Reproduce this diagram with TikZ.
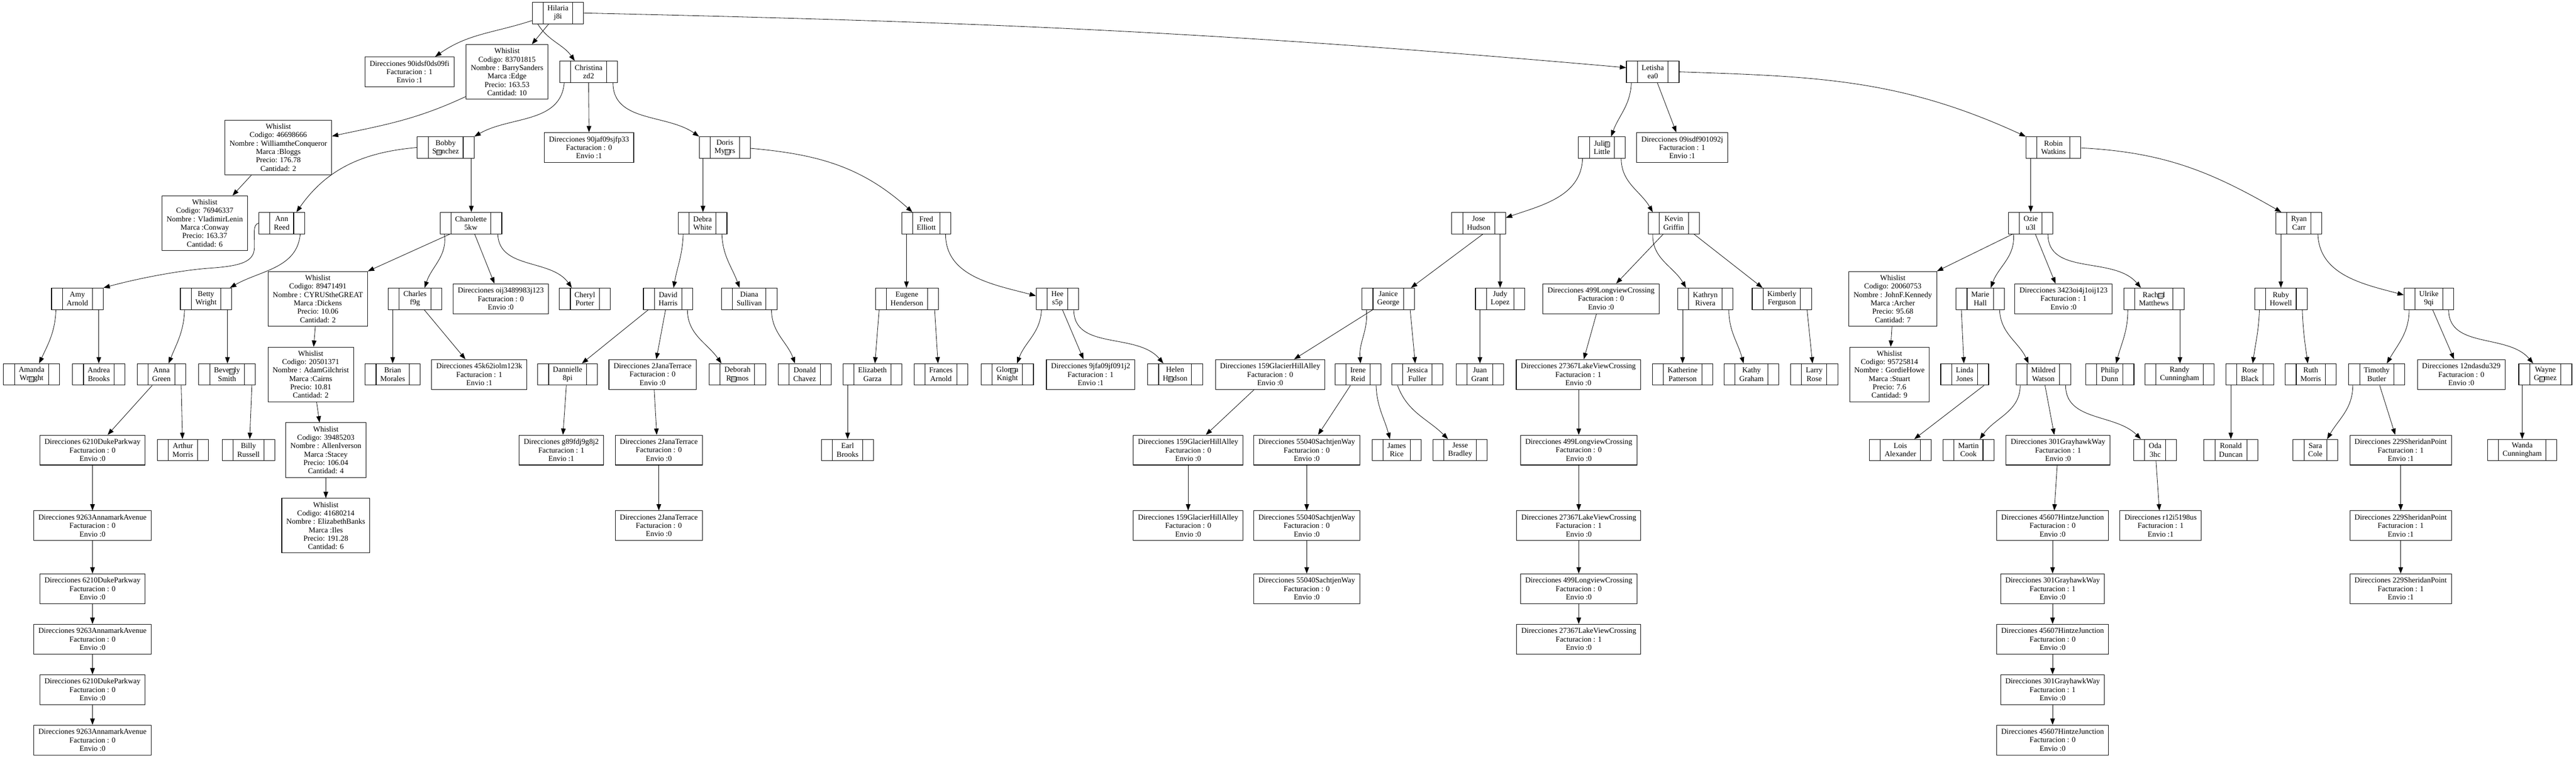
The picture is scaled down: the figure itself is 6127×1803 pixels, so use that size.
\documentclass[tikz,border=0pt]{standalone}
\usepackage{fontspec}
\setmainfont{Liberation Serif}
\usetikzlibrary{arrows.meta,calc}
\newcommand\rp{\raisebox{-0.8pt}{\setlength{\fboxsep}{0.35pt}\setlength{\fboxrule}{0.3pt}\fbox{\vbox{\offinterlineskip\fontsize{3.4pt}{3.4pt}\selectfont\hbox{FF}\vskip0.5pt\hbox{FD}}}}}
\tikzset{
 base/.style={draw, line width=0.65pt, align=center, font=\fontsize{9}{10}\selectfont, inner ysep=0pt},
 rec/.style={base, inner xsep=18pt, minimum height=25.5pt,
   path picture={\draw[line width=0.65pt] ([xshift=13pt]path picture bounding box.north west) -- ([xshift=13pt]path picture bounding box.south west);
                 \draw[line width=0.65pt] ([xshift=-13pt]path picture bounding box.north east) -- ([xshift=-13pt]path picture bounding box.south east);}},
 dr/.style={base, inner xsep=5.5pt, minimum height=35.5pt},
 wl/.style={base, inner xsep=5.5pt, minimum height=65pt},
 e/.style={-{Triangle[length=7.5pt,width=5.5pt]}, line width=0.5pt},
}
\begin{document}
\begin{tikzpicture}[x=0.5pt,y=0.5pt]
\useasboundingbox (0,0) rectangle (6127,-1803);
% rank 31
\node[rec] (hil) at (1327,-31) {Hilaria\\j8i};
% rank 171
\node[wl] (w1) at (1206,-171) {Whislist\\Codigo: 83701815\\Nombre : BarrySanders\\Marca :Edge\\Precio: 163.53\\Cantidad: 10};
\node[rec] (chr) at (1400,-171) {Christina\\zd2};
\node[dr] (d90i) at (974,-171) {Direcciones 90idsf0ds09fi\\Facturacion : 1\\Envio :1};
\node[rec] (lets) at (3931,-171) {Letisha\\ea0};
% rank 351
\node[wl] (w2) at (662,-351) {Whislist\\Codigo: 46698666\\Nombre : WilliamtheConqueror\\Marca :Bloggs\\Precio: 176.78\\Cantidad: 2};
\node[rec] (bob) at (1060,-351) {Bobby\\S\rp nchez};
\node[dr] (d90j) at (1401,-351) {Direcciones 90jaf09sjfp33\\Facturacion : 0\\Envio :1};
\node[rec] (dor) at (1724,-351) {Doris\\My\rp rs};
\node[rec] (jul) at (3810,-351) {Juli\rp\\Little};
\node[dr] (d09) at (4001,-351) {Direcciones 09isdf901092j\\Facturacion : 1\\Envio :1};
\node[rec] (rob) at (4884,-351) {Robin\\Watkins};
% rank 531
\node[wl] (w3) at (487,-531) {Whislist\\Codigo: 76946337\\Nombre : VladimirLenin\\Marca :Conway\\Precio: 163.37\\Cantidad: 6};
\node[rec] (ann) at (670,-531) {Ann\\Reed};
\node[rec] (cha) at (1120,-531) {Charolette\\5kw};
\node[rec] (deb) at (1671,-531) {Debra\\White};
\node[rec] (fre) at (2203,-531) {Fred\\Elliott};
\node[rec] (jos) at (3517,-531) {Jose\\Hudson};
\node[rec] (kev) at (3981,-531) {Kevin\\Griffin};
\node[rec] (ozi) at (4830,-531) {Ozie\\u3l};
\node[rec] (rya) at (5468,-531) {Ryan\\Carr};
% rank 711
\node[rec] (amy) at (184,-711) {Amy\\Arnold};
\node[rec] (bet) at (490,-711) {Betty\\Wright};
\node[wl] (w4) at (756,-711) {Whislist\\Codigo: 89471491\\Nombre : CYRUStheGREAT\\Marca :Dickens\\Precio: 10.06\\Cantidad: 2};
\node[rec] (chl) at (987,-711) {Charles\\f9g};
\node[dr] (doij) at (1191,-711) {Direcciones oij3489983j123\\Facturacion : 0\\Envio :0};
\node[rec] (che) at (1391,-711) {Cheryl\\Porter};
\node[rec] (dav) at (1589,-711) {David\\Harris};
\node[rec] (dia) at (1782,-711) {Diana\\Sullivan};
\node[rec] (eug) at (2157,-711) {Eugene\\Henderson};
\node[rec] (hee) at (2515,-711) {Hee\\s5p};
\node[rec] (jan) at (3302,-711) {Janice\\George};
\node[rec] (jud) at (3568,-711) {Judy\\Lopez};
\node[dr] (d499a) at (3808,-711) {Direcciones 499LongviewCrossing\\Facturacion : 0\\Envio :0};
\node[rec] (kat) at (4056,-711) {Kathryn\\Rivera};
\node[rec] (kim) at (4238,-711) {Kimberly\\Ferguson};
\node[wl] (w5) at (4502,-711) {Whislist\\Codigo: 20060753\\Nombre : JohnF.Kennedy\\Marca :Archer\\Precio: 95.68\\Cantidad: 7};
\node[rec] (mar) at (4710,-711) {Marie\\Hall};
\node[dr] (d3423) at (4908,-711) {Direcciones 3423oi4j1oij123\\Facturacion : 1\\Envio :0};
\node[rec] (rac) at (5123,-711) {Rach\rp l\\Matthews};
\node[rec] (rub) at (5425,-711) {Ruby\\Howell};
\node[rec] (ulr) at (5777,-711) {Ulrike\\9qi};
% rank 891
\node[rec] (ama) at (75,-891) {Amanda\\Wr\rp ght};
\node[rec] (andr) at (235,-891) {Andrea\\Brooks};
\node[rec] (anna) at (384,-891) {Anna\\Green};
\node[rec] (bev) at (540,-891) {Beve\rp ly\\Smith};
\node[wl] (w6) at (739,-891) {Whislist\\Codigo: 20501371\\Nombre : AdamGilchrist\\Marca :Cairns\\Precio: 10.81\\Cantidad: 2};
\node[rec] (bri) at (934,-891) {Brian\\Morales};
\node[dr] (d45k) at (1140,-891) {Direcciones 45k62iolm123k\\Facturacion : 1\\Envio :1};
\node[rec] (dan) at (1350,-891) {Dannielle\\8pi};
\node[dr] (dja1) at (1552,-891) {Direcciones 2JanaTerrace\\Facturacion : 0\\Envio :0};
\node[rec] (debr) at (1754,-891) {Deborah\\R\rp mos};
\node[rec] (don) at (1914,-891) {Donald\\Chavez};
\node[rec] (eli) at (2075,-891) {Elizabeth\\Garza};
\node[rec] (fra) at (2238,-891) {Frances\\Arnold};
\node[rec] (glo) at (2396,-891) {Glor\rp a\\Knight};
\node[dr] (d9jf) at (2594,-891) {Direcciones 9jfa09jf091j2\\Facturacion : 1\\Envio :1};
\node[rec] (hel) at (2795,-891) {Helen\\H\rp dson};
\node[dr] (dg1) at (3021,-891) {Direcciones 159GlacierHillAlley\\Facturacion : 0\\Envio :0};
\node[rec] (ire) at (3230,-891) {Irene\\Reid};
\node[rec] (jes) at (3371,-891) {Jessica\\Fuller};
\node[rec] (jua) at (3520,-891) {Juan\\Grant};
\node[dr] (dl1) at (3754,-891) {Direcciones 27367LakeViewCrossing\\Facturacion : 1\\Envio :0};
\node[rec] (kath) at (4002,-891) {Katherine\\Patterson};
\node[rec] (katy) at (4166,-891) {Kathy\\Graham};
\node[rec] (lar) at (4315,-891) {Larry\\Rose};
\node[wl] (w7) at (4494,-891) {Whislist\\Codigo: 95725814\\Nombre : GordieHowe\\Marca :Stuart\\Precio: 7.6\\Cantidad: 9};
\node[rec] (lin) at (4673,-891) {Linda\\Jones};
\node[rec] (mil) at (4860,-891) {Mildred\\Watson};
\node[rec] (phi) at (5018,-891) {Philip\\Dunn};
\node[rec] (ran) at (5184,-891) {Randy\\Cunningham};
\node[rec] (ros) at (5351,-891) {Rose\\Black};
\node[rec] (rut) at (5496,-891) {Ruth\\Morris};
\node[rec] (tim) at (5653,-891) {Timothy\\Butler};
\node[dr] (d12) at (5854,-891) {Direcciones 12ndasdu329\\Facturacion : 0\\Envio :0};
\node[rec] (way) at (6054,-891) {Wayne\\G\rp mez};
% rank 1071
\node[dr] (d6210a) at (220,-1071) {Direcciones 6210DukeParkway\\Facturacion : 0\\Envio :0};
\node[rec] (art) at (435,-1071) {Arthur\\Morris};
\node[rec] (bil) at (591,-1071) {Billy\\Russell};
\node[wl] (w8) at (775,-1071) {Whislist\\Codigo: 39485203\\Nombre : AllenIverson\\Marca :Stacey\\Precio: 106.04\\Cantidad: 4};
\node[dr] (dg89) at (1335,-1071) {Direcciones g89fdj9g8j2\\Facturacion : 1\\Envio :1};
\node[dr] (dja2) at (1567,-1071) {Direcciones 2JanaTerrace\\Facturacion : 0\\Envio :0};
\node[rec] (ear) at (2016,-1071) {Earl\\Brooks};
\node[dr] (dg2) at (2826,-1071) {Direcciones 159GlacierHillAlley\\Facturacion : 0\\Envio :0};
\node[dr] (ds1) at (3108,-1071) {Direcciones 55040SachtjenWay\\Facturacion : 0\\Envio :0};
\node[rec] (jam) at (3322,-1071) {James\\Rice};
\node[rec] (jesb) at (3473,-1071) {Jesse\\Bradley};
\node[dr] (dl499b) at (3755,-1071) {Direcciones 499LongviewCrossing\\Facturacion : 0\\Envio :0};
\node[rec] (loi) at (4520,-1071) {Lois\\Alexander};
\node[rec] (mart) at (4682,-1071) {Martin\\Cook};
\node[dr] (d301a) at (4895,-1071) {Direcciones 301GrayhawkWay\\Facturacion : 1\\Envio :0};
\node[rec] (oda) at (5126,-1071) {Oda\\3hc};
\node[rec] (ron) at (5306,-1071) {Ronald\\Duncan};
\node[rec] (sar) at (5507,-1071) {Sara\\Cole};
\node[dr] (d229a) at (5710,-1071) {Direcciones 229SheridanPoint\\Facturacion : 1\\Envio :1};
\node[rec] (wan) at (5999,-1071) {Wanda\\Cunningham};
% rank 1251
\node[dr] (d9263a) at (220,-1251) {Direcciones 9263AnnamarkAvenue\\Facturacion : 0\\Envio :0};
\node[wl] (w9) at (775,-1251) {Whislist\\Codigo: 41680214\\Nombre : ElizabethBanks\\Marca :Iles\\Precio: 191.28\\Cantidad: 6};
\node[dr] (dja3) at (1567,-1251) {Direcciones 2JanaTerrace\\Facturacion : 0\\Envio :0};
\node[dr] (dg3) at (2826,-1251) {Direcciones 159GlacierHillAlley\\Facturacion : 0\\Envio :0};
\node[dr] (ds2) at (3108,-1251) {Direcciones 55040SachtjenWay\\Facturacion : 0\\Envio :0};
\node[dr] (dl2) at (3755,-1251) {Direcciones 27367LakeViewCrossing\\Facturacion : 1\\Envio :0};
\node[dr] (d45607a) at (4882,-1251) {Direcciones 45607HintzeJunction\\Facturacion : 0\\Envio :0};
\node[dr] (dr12) at (5139,-1251) {Direcciones r12i5198us\\Facturacion : 1\\Envio :1};
\node[dr] (d229b) at (5710,-1251) {Direcciones 229SheridanPoint\\Facturacion : 1\\Envio :1};
% rank 1401
\node[dr] (d6210b) at (220,-1401) {Direcciones 6210DukeParkway\\Facturacion : 0\\Envio :0};
\node[dr] (ds3) at (3108,-1401) {Direcciones 55040SachtjenWay\\Facturacion : 0\\Envio :0};
\node[dr] (dl499c) at (3755,-1401) {Direcciones 499LongviewCrossing\\Facturacion : 0\\Envio :0};
\node[dr] (d301b) at (4882,-1401) {Direcciones 301GrayhawkWay\\Facturacion : 1\\Envio :0};
\node[dr] (d229c) at (5710,-1401) {Direcciones 229SheridanPoint\\Facturacion : 1\\Envio :1};
% rank 1521
\node[dr] (d9263b) at (220,-1521) {Direcciones 9263AnnamarkAvenue\\Facturacion : 0\\Envio :0};
\node[dr] (dl3) at (3755,-1521) {Direcciones 27367LakeViewCrossing\\Facturacion : 1\\Envio :0};
\node[dr] (d45607b) at (4882,-1521) {Direcciones 45607HintzeJunction\\Facturacion : 0\\Envio :0};
% rank 1641
\node[dr] (d6210c) at (220,-1641) {Direcciones 6210DukeParkway\\Facturacion : 0\\Envio :0};
\node[dr] (d301c) at (4882,-1641) {Direcciones 301GrayhawkWay\\Facturacion : 1\\Envio :0};
% rank 1761
\node[dr] (d9263c) at (220,-1761) {Direcciones 9263AnnamarkAvenue\\Facturacion : 0\\Envio :0};
\node[dr] (d45607c) at (4882,-1761) {Direcciones 45607HintzeJunction\\Facturacion : 0\\Envio :0};

% edges
\draw[e] ($(hil.south)+(-22,0)$) -- ($(w1.north)+(59,0)$);
\draw[e] ($(hil.south)+(-48,0)$) to[out=-58,in=125] ($(chr.north)+(-33,0)$);
\draw[e] ($(hil.west)+(0,-18)$) to[out=198,in=35] ($(d90i.north)+(61,0)$);
\draw[e] (hil.east) .. controls (2358,-53) and (2897,-76) .. ($(lets.west)+(0,10)$);
\draw[e] ($(w1.south west)+(0,7)$) to[out=205,in=12] ($(w2.east)+(0,27)$);
\draw[e] ($(w2.south)+(-64,0)$) -- ($(w3.north)+(66,0)$);
\draw[e] ($(chr.south)+(-58,0)$) to[out=-95,in=30] (bob.north east);
\draw[e] (chr.south) -- (d90j.north);
\draw[e] ($(chr.south)+(58,0)$) to[out=-90,in=145] (dor.north west);
\draw[e] (bob.west) to[out=185,in=55] ($(ann.north)+(35,0)$);
\draw[e] ($(bob.south)+(61,0)$) -- ($(cha.north)+(1,0)$);
\draw[e] (ann.west) .. controls (600,-535) and (606,-560) .. (605,-590) .. controls (604,-622) and (575,-633) .. (500,-638) .. controls (430,-643) and (330,-662) .. (amy.north east);
\draw[e] ($(ann.south)+(44,0)$) to[out=-95,in=30] ($(bet.north)+(57,0)$);
\draw[e] ($(amy.south)+(-51,0)$) to[out=-92,in=65] ($(ama.north)+(18,0)$);
\draw[e] ($(amy.south)+(51,0)$) -- (andr.north);
\draw[e] ($(bet.south)+(-51,0)$) to[out=-92,in=68] ($(anna.north)+(17,0)$);
\draw[e] ($(bet.south)+(51,0)$) -- ($(bev.north)+(1,0)$);
\draw[e] ($(anna.south)+(-22,0)$) -- ($(d6210a.north)+(36,0)$);
\draw[e] ($(anna.south)+(47,0)$) -- ($(art.north)+(-1,0)$);
\draw[e] ($(bev.south)+(59,0)$) -- ($(bil.north)+(3,0)$);
\draw[e] ($(cha.south)+(-50,0)$) -- (w4.north east);
\draw[e] ($(cha.south)+(-63,0)$) to[out=-82,in=72] ($(chl.north)+(23,0)$);
\draw[e] ($(cha.south)+(9,0)$) -- ($(doij.north)+(-15,0)$);
\draw[e] ($(cha.south)+(64,0)$) to[out=-88,in=125] ($(che.north)+(-31,0)$);
\draw[e] ($(w4.south)+(-6,0)$) -- ($(w6.north)+(7,0)$);
\draw[e] ($(w6.south)+(14,0)$) -- ($(w8.north)+(-15,0)$);
\draw[e] (w8.south) -- (w9.north);
\draw[e] ($(chl.south)+(-53,0)$) -- (bri.north);
\draw[e] ($(chl.south)+(22,0)$) -- ($(d45k.north)+(-33,0)$);
\draw[e] ($(dor.south)+(-52,0)$) -- ($(deb.north)+(1,0)$);
\draw[e] ($(dor.east)+(0,-2)$) to[out=-5,in=138] ($(fre.north)+(-33,0)$);
\draw[e] ($(deb.south)+(-46,0)$) to[out=-92,in=80] ($(dav.north)+(13,0)$);
\draw[e] ($(deb.south)+(46,0)$) to[out=-88,in=110] ($(dia.north)+(-23,0)$);
\draw[e] ($(dav.south)+(-47,0)$) -- ($(dan.north)+(34,0)$);
\draw[e] ($(dav.south)+(-6,0)$) -- ($(dja1.north)+(9,0)$);
\draw[e] ($(dav.south)+(46,0)$) to[out=-90,in=125] ($(debr.north)+(-38,0)$);
\draw[e] ($(dia.south)+(53,0)$) to[out=-90,in=110] ($(don.north)+(-23,0)$);
\draw[e] ($(dan.south)+(-3,0)$) -- ($(dg89.north)+(4,0)$);
\draw[e] ($(dja1.south)+(4,0)$) -- ($(dja2.north)+(-5,0)$);
\draw[e] (dja2.south) -- (dja3.north);
\draw[e] ($(fre.south)+(-47,0)$) -- ($(eug.north)+(-1,0)$);
\draw[e] ($(fre.south)+(46,0)$) to[out=-90,in=165] ($(hee.west)+(0,7)$);
\draw[e] ($(eug.south)+(-66,0)$) -- ($(eli.north)+(6,0)$);
\draw[e] ($(eug.south)+(66,0)$) -- ($(fra.north)+(-7,0)$);
\draw[e] ($(eli.south)+(-59,0)$) -- (ear.north);
\draw[e] ($(hee.south)+(-38,0)$) to[out=-92,in=70] ($(glo.north)+(23,0)$);
\draw[e] ($(hee.south)+(12,0)$) -- ($(d9jf.north)+(-17,0)$);
\draw[e] ($(hee.south)+(39,0)$) to[out=-90,in=130] ($(hel.north)+(-28,0)$);
\draw[e] ($(jos.south)+(10,0)$) -- ($(jan.north)+(54,0)$);
\draw[e] ($(jos.south)+(51,0)$) -- (jud.north);
\draw[e] ($(jan.south)+(-37,0)$) -- ($(dg1.north)+(57,0)$);
\draw[e] ($(jan.south)+(-52,0)$) to[out=-85,in=95] ($(ire.north)+(6,0)$);
\draw[e] ($(jan.south)+(52,0)$) -- ($(jes.north)+(-5,0)$);
\draw[e] ($(dg1.south)+(-38,0)$) -- ($(dg2.north)+(42,0)$);
\draw[e] (dg2.south) -- (dg3.north);
\draw[e] ($(ire.south)+(-18,0)$) -- ($(ds1.north)+(27,0)$);
\draw[e] ($(ire.south)+(43,0)$) to[out=-88,in=105] ($(jam.north)+(-16,0)$);
\draw[e] (ds1.south) -- (ds2.north);
\draw[e] (ds2.south) -- (ds3.north);
\draw[e] ($(jes.south)+(-47,0)$) to[out=-70,in=135] ($(jesb.north)+(-29,0)$);
\draw[e] ($(jud.south)+(-48,0)$) -- (jua.north);
\draw[e] ($(jul.south)+(-46,0)$) to[out=-92,in=19] ($(jos.east)+(0,13)$);
\draw[e] ($(jul.south)+(46,0)$) to[out=-90,in=120] ($(kev.north)+(-50,0)$);
\draw[e] ($(lets.south)+(-51,0)$) to[out=-92,in=70] ($(jul.north)+(22,0)$);
\draw[e] ($(lets.south)+(11,0)$) -- ($(d09.north)+(-14,0)$);
\draw[e] (lets.east) .. controls (4322,-182) and (4521,-188) .. (rob.north west);
\draw[e] ($(kev.south)+(-25,0)$) -- ($(d499a.north)+(36,0)$);
\draw[e] ($(kev.south)+(-50,0)$) to[out=-92,in=120] ($(kat.north)+(-46,0)$);
\draw[e] ($(kev.south)+(48,0)$) -- ($(kim.north)+(-46,0)$);
\draw[e] ($(d499a.south)+(-11,0)$) -- ($(dl1.north)+(13,0)$);
\draw[e] ($(dl1.south)+(1,0)$) -- (dl499b.north);
\draw[e] (dl499b.south) -- (dl2.north);
\draw[e] (dl2.south) -- (dl499c.north);
\draw[e] (dl499c.south) -- (dl3.north);
\draw[e] ($(kat.south)+(-54,0)$) -- (kath.north);
\draw[e] ($(kat.south)+(56,0)$) to[out=-90,in=105] ($(katy.north)+(-19,0)$);
\draw[e] ($(kim.south)+(60,0)$) -- ($(lar.north)+(-4,0)$);
\draw[e] ($(rob.south)+(-54,0)$) -- (ozi.north);
\draw[e] ($(rob.east)+(0,-1)$) to[out=-3,in=150] ($(rya.north)+(-42,0)$);
\draw[e] ($(ozi.south)+(-43,0)$) -- (w5.north east);
\draw[e] ($(ozi.south)+(-41,0)$) to[out=-85,in=70] ($(mar.north)+(25,0)$);
\draw[e] ($(ozi.south)+(11,0)$) -- ($(d3423.north)+(-19,0)$);
\draw[e] ($(ozi.south)+(41,0)$) to[out=-90,in=130] ($(rac.north)+(-31,0)$);
\draw[e] ($(w5.south)+(-2,0)$) -- ($(w7.north)+(3,0)$);
\draw[e] ($(mar.south)+(-45,0)$) -- ($(lin.north)+(-2,0)$);
\draw[e] ($(mar.south)+(46,0)$) to[out=-88,in=115] ($(mil.north)+(-35,0)$);
\draw[e] ($(lin.south)+(46,0)$) -- ($(loi.north)+(33,0)$);
\draw[e] ($(mil.south)+(-55,0)$) to[out=-90,in=55] ($(mart.north)+(27,0)$);
\draw[e] ($(mil.south)+(4,0)$) -- ($(d301a.north)+(-9,0)$);
\draw[e] ($(mil.south)+(53,0)$) to[out=-90,in=135] ($(oda.north)+(-34,0)$);
\draw[e] ($(d301a.south)+(-2,0)$) -- ($(d45607a.north)+(4,0)$);
\draw[e] (d45607a.south) -- (d301b.north);
\draw[e] (d301b.south) -- (d45607b.north);
\draw[e] (d45607b.south) -- (d301c.north);
\draw[e] (d301c.south) -- (d45607c.north);
\draw[e] ($(oda.south)+(2,0)$) -- ($(dr12.north)+(-3,0)$);
\draw[e] ($(rac.south)+(-62,0)$) to[out=-90,in=75] ($(phi.north)+(15,0)$);
\draw[e] ($(rac.south)+(62,0)$) -- ($(ran.north)+(1,0)$);
\draw[e] ($(rya.south)+(-43,0)$) -- (rub.north);
\draw[e] ($(rya.south)+(45,0)$) to[out=-88,in=165] ($(ulr.west)+(0,9)$);
\draw[e] ($(rub.south)+(-51,0)$) to[out=-92,in=82] ($(ros.north)+(7,0)$);
\draw[e] ($(rub.south)+(51,0)$) to[out=-88,in=98] ($(rut.north)+(-7,0)$);
\draw[e] ($(ros.south)+(-45,0)$) -- (ron.north);
\draw[e] ($(ulr.south)+(-47,0)$) to[out=-90,in=60] ($(tim.north)+(24,0)$);
\draw[e] ($(ulr.south)+(9,0)$) -- ($(d12.north)+(-17,0)$);
\draw[e] ($(ulr.south)+(47,0)$) to[out=-90,in=130] ($(way.north)+(-29,0)$);
\draw[e] ($(tim.south)+(-57,0)$) to[out=-90,in=60] ($(sar.north)+(28,0)$);
\draw[e] ($(tim.south)+(7,0)$) -- ($(d229a.north)+(-13,0)$);
\draw[e] (d229a.south) -- (d229b.north);
\draw[e] (d229b.south) -- (d229c.north);
\draw[e] ($(way.south)+(-55,0)$) -- (wan.north);
\draw[e] (d6210a.south) -- (d9263a.north);
\draw[e] (d9263a.south) -- (d6210b.north);
\draw[e] (d6210b.south) -- (d9263b.north);
\draw[e] (d9263b.south) -- (d6210c.north);
\draw[e] (d6210c.south) -- (d9263c.north);
\end{tikzpicture}
\end{document}
